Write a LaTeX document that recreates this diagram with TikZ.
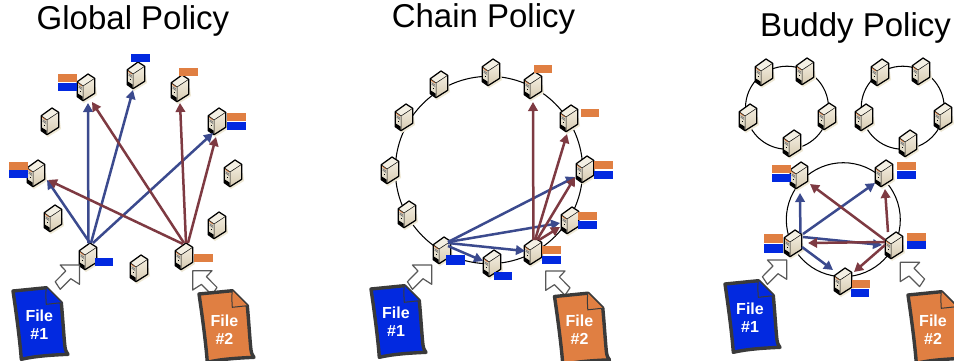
\documentclass[tikz,border=0pt]{standalone}
\usepackage{fontspec}
\setmainfont{Liberation Sans}
\usetikzlibrary{arrows.meta}
\definecolor{forange}{HTML}{E07F42}
\definecolor{fblue}{HTML}{0229E0}
\definecolor{arrblue}{HTML}{3B4A8E}
\definecolor{arrred}{HTML}{7E3A42}
\definecolor{fileedge}{HTML}{3A3A3A}
\definecolor{srvtop}{HTML}{F4F0E4}
\definecolor{srvhi}{HTML}{F3EDDF}
\definecolor{srvlo}{HTML}{D6CAB0}
\definecolor{srvleft}{HTML}{E4DECC}
\definecolor{srvshadow}{HTML}{EFE9D6}
\tikzset{
  tago/.style={fill=forange},
  tagb/.style={fill=fblue},
  ringnode/.style={circle,draw=black,line width=1.05pt,inner sep=0pt},
  srvnode/.style={rectangle,inner sep=0pt,minimum width=18pt,minimum height=27pt},
  titletext/.style={font=\fontsize{33}{38}\selectfont,inner sep=0pt},
  filetext/.style={font=\fontsize{16}{18}\selectfont\bfseries,text=white,align=center,inner sep=0pt},
  flowb/.style={draw=arrblue,line width=2.5pt,-{Triangle[length=9pt,width=9.5pt]}},
  flowr/.style={draw=arrred,line width=2.5pt,-{Triangle[length=9pt,width=9.5pt]}},
  hollow/.style={draw=black!65,fill=white,line width=1.2pt,line join=round},
  server/.pic={
    \fill[srvshadow] (-7,11) -- (10,0) -- (11,8) -- (-2,16) -- cycle;
    \shade[top color=srvhi,bottom color=srvlo]
      (-3,-1) -- (8.7,-8.7) -- (8.7,6.3) -- (-3,13.7) -- cycle;
    \fill[srvtop] (-8.7,-5.3) -- (2,-13) -- (8.7,-8.7) -- (-3,-1) -- cycle;
    \fill[srvleft] (-8.7,-5.3) -- (-3,-1) -- (-3,13.7) -- (-8.7,9.7) -- cycle;
    \draw[forange,line width=.8pt] (-8,-3.8) -- (-4,-1);
    \draw[black!55,line width=.6pt] (-7.5,-1.5) -- (-4,1) (-7.5,0) -- (-4,2.5);
    \fill[black] (-6.5,3.5) rectangle (-4.8,5.2);
    \fill[black] (-8.2,6.5) -- (-3.5,9.5) -- (-3.5,13) -- (-8.2,9.5) -- cycle;
    \draw[black,line width=1.25pt,line join=round]
      (-8.7,-5.3) -- (2,-13) -- (8.7,-8.7) -- (8.7,6.3) -- (-3,13.7) -- (-8.7,9.7) -- cycle;
    \draw[black,line width=.5pt] (-8.7,-5.3) -- (-3,-1) -- (8.7,-8.7) (-3,-1) -- (-3,13.7);
  },
  docshape/.pic={
    \draw[draw=fileedge,line width=3.4pt,line join=round,fill=#1]
      (0,0) -- (33.3,-3.3) -- (48.3,11.7)
      .. controls (50,30) and (51,48) .. (52,56)
      .. controls (52.5,60) and (54,62) .. (55,63.3)
      .. controls (40,64) and (22,65) .. (8.3,68.3)
      .. controls (7,50) and (3,20) .. (0,0) -- cycle;
    \draw[draw=fileedge,line width=1pt,fill=#1] (33.3,-3.3)
      .. controls (32.5,3) and (33,8) .. (33.3,13.3) -- (48.3,11.7);
  },
}
\newcommand\srv[2]{\pic at (#2) {server}; \node[srvnode] (#1) at (#2) {};}
\newcommand\flow[5]{\draw[#1] ([shift={(#3)}]#2.center) -- ([shift={(#5)}]#4.center);}
\newcommand\bigarrowl[1]{\draw[hollow,shift={(#1)}] (0,0) -- (-19.3,0) -- (-13.7,6) -- (-24.3,16.7) -- (-19.3,24.3) -- (-8.7,13.7) -- (0,19.3) -- cycle;}
\newcommand\bigarrowr[1]{\draw[hollow,shift={(#1)}] (0,0) -- (19.3,0) -- (13.7,6) -- (24.3,16.7) -- (19.3,24.3) -- (8.7,13.7) -- (0,19.3) -- cycle;}
\begin{document}
\begin{tikzpicture}[x=1pt,y=-1pt]
\useasboundingbox (0,0) rectangle (954,360);
\fill[white] (0,0) rectangle (954,360);
% titles
\node[titletext] (t1) at (133,21) {Global Policy};
\node[titletext] (t2) at (483.5,19) {Chain Policy};
\node[titletext] (t3) at (855.5,28) {Buddy Policy};
% rings
\node[ringnode,minimum size=187.4pt] (rc) at (489,170) {};
\node[ringnode,minimum size=83pt] (ru1) at (787,107.7) {};
\node[ringnode,minimum size=83pt] (ru2) at (902.7,107.7) {};
\node[ringnode,minimum size=114pt] (rl) at (843.3,219.7) {};
% global servers
\srv{g1}{86,87}\srv{g2}{136,75}\srv{g3}{180,88}\srv{g4}{217,121}\srv{g5}{50,121}\srv{g6}{36,173}
\srv{g7}{233,173}\srv{g8}{53,218}\srv{g9}{217,225}\srv{g10}{88,256}\srv{g11}{139,268}\srv{g12}{184,256}
% chain servers
\srv{c1}{491,72}\srv{c2}{439,84}\srv{c3}{404,117}\srv{c4}{390,170}\srv{c5}{407,214}\srv{c6}{442,250}
\srv{c7}{492,263}\srv{c8}{533,251}\srv{c9}{570,220}\srv{c10}{585,169}\srv{c11}{569,118}\srv{c12}{533,85}
% buddy servers
\srv{a1}{764,72}\srv{a2}{805,71}\srv{a3}{827,116}\srv{a4}{792,143}\srv{a5}{748,117}
\srv{b1}{880,72}\srv{b2}{921,71}\srv{b3}{943,116}\srv{b4}{908,143}\srv{b5}{864,117}
\srv{l1}{799,175}\srv{l2}{884,173}\srv{l3}{793,243}\srv{l4}{894,245}\srv{l5}{843,281}
% tags global
\fill[tago] (58,74) rectangle (77,82); \fill[tagb] (58,83) rectangle (77,91);
\fill[tagb] (131,54) rectangle (150,62);
\fill[tago] (179,68) rectangle (198,76);
\fill[tago] (227,113) rectangle (246,121); \fill[tagb] (227,122) rectangle (246,130);
\fill[tago] (9,162) rectangle (28,170); \fill[tagb] (9,170) rectangle (28,178);
\fill[tagb] (95,258) rectangle (113,266);
\fill[tago] (194,254) rectangle (213,262);
% tags chain
\fill[tago] (534,65) rectangle (552,73);
\fill[tago] (581,109) rectangle (599,117);
\fill[tago] (594,161) rectangle (613,169); \fill[tagb] (594,171) rectangle (613,179);
\fill[tago] (578,212) rectangle (597,220); \fill[tagb] (578,221) rectangle (597,229);
\fill[tago] (542,246) rectangle (561,254); \fill[tagb] (542,256) rectangle (561,264);
\fill[tagb] (446,255) rectangle (465,265);
\fill[tagb] (494,272) rectangle (512,280);
% tags buddy
\fill[tago] (772,165) rectangle (791,173); \fill[tagb] (772,174) rectangle (791,182);
\fill[tago] (897,162) rectangle (916,170); \fill[tagb] (897,171) rectangle (916,179);
\fill[tago] (764,234) rectangle (783,243); \fill[tagb] (764,244) rectangle (783,253);
\fill[tago] (907,233) rectangle (926,241); \fill[tagb] (907,241) rectangle (926,249);
\fill[tago] (852,280) rectangle (870,288); \fill[tagb] (851,289) rectangle (869,297);
% flows global
\flow{flowb}{g10}{0.4,-13}{g1}{2,16}
\flow{flowb}{g10}{3,-13}{g2}{-3,15}
\flow{flowb}{g10}{2,-13}{g6}{11,7}
\flow{flowb}{g10}{5,-13}{g4}{-4,12}
\flow{flowr}{g12}{0,-13}{g1}{6,15}
\flow{flowr}{g12}{2,-13}{g3}{0,15}
\flow{flowr}{g12}{4,-13}{g4}{-1,16}
\flow{flowr}{g12}{-1,-12}{g6}{12,7}
% flows chain
\flow{flowb}{c6}{6,-8}{c10}{-10,8}
\flow{flowb}{c6}{6,-8}{c9}{-10,3}
\flow{flowb}{c6}{6,-7}{c8}{-8,0}
\flow{flowb}{c6}{6,-4}{c7}{-9,-2}
\flow{flowr}{c8}{0.4,-11}{c12}{0,17}
\flow{flowr}{c8}{2,-11}{c11}{-2,16}
\flow{flowr}{c8}{4,-11}{c10}{-10,8}
\flow{flowr}{c8}{6,-11}{c9}{-10,7}
% flows buddy
\flow{flowb}{l3}{7.4,-10}{l1}{1,18}
\flow{flowb}{l3}{10,-9}{l2}{-9,10}
\flow{flowb}{l3}{10,-6}{l4}{-12,0}
\flow{flowb}{l3}{9,4}{l5}{-10,-11}
\flow{flowr}{l4}{-9,-5}{l1}{11,9}
\flow{flowr}{l4}{-6,-13}{l2}{1,16}
\flow{flowr}{l4}{-9,-3}{l3}{15,0}
\flow{flowr}{l4}{-9,0}{l5}{11,-9}
% hollow arrows
\bigarrowl{79.5,265}
\bigarrowr{192.7,270.7}
\bigarrowl{431.7,265}
\bigarrowr{545.7,271}
\bigarrowl{786.7,260}
\bigarrowr{900.3,262.3}
% files
\pic at (13,291) {docshape=fblue};
\node[filetext] (f1) at (39.3,325) {File\\\#1};
\pic at (199,294) {docshape=forange};
\node[filetext] (f2) at (224.5,330) {File\\\#2};
\pic at (371,289) {docshape=fblue};
\node[filetext] (f3) at (396,322) {File\\\#1};
\pic at (554.5,296.5) {docshape=forange};
\node[filetext] (f4) at (579.5,330) {File\\\#2};
\pic at (725,284) {docshape=fblue};
\node[filetext] (f5) at (750,318) {File\\\#1};
\pic at (908,295) {docshape=forange};
\node[filetext] (f6) at (933,330) {File\\\#2};
\end{tikzpicture}
\end{document}
